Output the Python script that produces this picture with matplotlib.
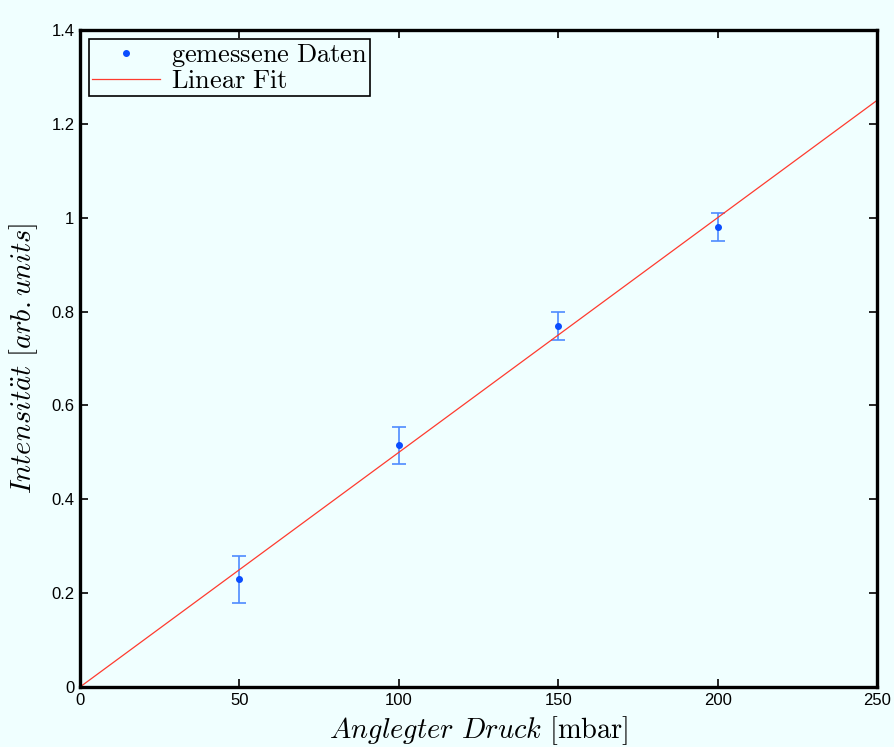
import numpy as np
import matplotlib.pyplot as plt

plt.rcParams['mathtext.fontset'] = 'cm'
plt.rcParams['font.family'] = ['Liberation Sans', 'DejaVu Sans']

# Messdaten
druck = [50, 100, 150, 200]
intensitaet = [0.23, 0.515, 0.77, 0.98]
fehler = [0.05, 0.04, 0.03, 0.03]

# Linearer Fit
steigung = 0.005
x_fit = np.array([0, 250])
y_fit = steigung * x_fit

bg = '#f0ffff'
fig = plt.figure(figsize=(8.94, 7.47), dpi=100, facecolor=bg)
ax = fig.add_axes([80 / 894, 1 - 687 / 747, 797 / 894, 657 / 747])
ax.set_facecolor(bg)

ax.errorbar(druck, intensitaet, yerr=fehler, fmt='none', ecolor='#4f8bff',
            elinewidth=1.2, capsize=5, capthick=1.2, zorder=2)
ax.plot(druck, intensitaet, '.', color='#0a4dff', markersize=8,
        label=r'$\mathrm{gemessene\ Daten}$', zorder=3)
ax.plot(x_fit, y_fit, '-', color='#ff3b2f', linewidth=0.9,
        label=r'$\mathrm{Linear\ Fit}$', zorder=2)

ax.set_xlim(0, 250)
ax.set_ylim(0, 1.4)
ax.set_xticks([0, 50, 100, 150, 200, 250])
ax.set_yticks([0, 0.2, 0.4, 0.6, 0.8, 1, 1.2, 1.4])
ax.set_yticklabels(['0', '0.2', '0.4', '0.6', '0.8', '1', '1.2', '1.4'])
ax.tick_params(direction='in', top=True, right=True, length=6, width=1.2,
               labelsize=12, pad=4)
for s in ax.spines.values():
    s.set_linewidth(2.4)

ax.set_xlabel(r'$Anglegter\ Druck\ \mathrm{[mbar]}$', fontsize=20.5, labelpad=5)
ax.set_ylabel(r'$Intensit\ddot{a}t\ [arb.units]$', fontsize=20.5, labelpad=8)

leg = ax.legend(loc='upper left', fontsize=19, frameon=True, fancybox=False,
                borderaxespad=0.35, borderpad=0.1, handlelength=2.6,
                handletextpad=0.4, labelspacing=0.0, framealpha=1)
leg.get_frame().set_edgecolor('black')
leg.get_frame().set_linewidth(1.2)
leg.get_frame().set_facecolor(bg)

plt.savefig('out.png', dpi=100, facecolor=bg)
